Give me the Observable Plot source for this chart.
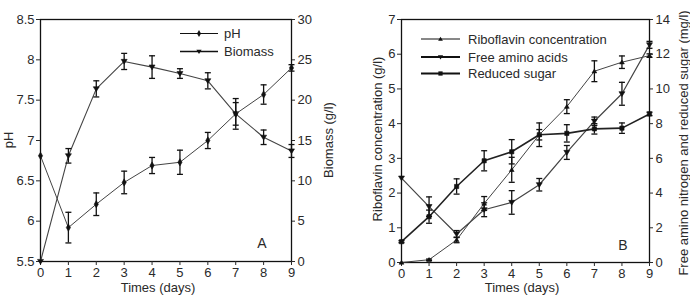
<!DOCTYPE html>
<html>
<head>
<meta charset="utf-8">
<script src="https://cdn.jsdelivr.net/npm/d3@7"></script>
<script src="https://cdn.jsdelivr.net/npm/@observablehq/plot@0.6"></script>
<style>
  html, body { margin: 0; padding: 0; background: #fff; }
  #wrap { display: flex; width: 690px; height: 295px; overflow: hidden; }
  #wrap svg { display: block; }
</style>
</head>
<body>
<div id="wrap"></div>
<script>
// Fermentation time course (days)
const days = [0, 1, 2, 3, 4, 5, 6, 7, 8, 9];

// Panel A: pH (left axis) and biomass in g/l (right axis), mean and error
const phMean = [6.81, 5.92, 6.21, 6.48, 6.69, 6.73, 7.0, 7.33, 7.57, 7.9];
const phErr = [0, 0.19, 0.14, 0.14, 0.1, 0.15, 0.1, 0.14, 0.12, 0.04];
const biomassMean = [0, 13.1, 21.4, 24.8, 24.1, 23.3, 22.4, 18.3, 15.4, 13.7];
const biomassErr = [0, 0.9, 1.0, 1.0, 1.4, 0.6, 1.0, 1.9, 0.9, 0.8];

// Panel B: riboflavin in g/l (left axis); free amino nitrogen and reduced sugar in mg/l (right axis)
const riboflavinMean = [0, 0.08, 0.65, 1.70, 2.67, 3.68, 4.49, 5.51, 5.77, 5.96];
const riboflavinErr = [0, 0.02, 0.08, 0.2, 0.36, 0.34, 0.2, 0.3, 0.18, 0.05];
const aminoMean = [4.86, 3.22, 1.64, 3.04, 3.46, 4.48, 6.34, 8.14, 9.72, 12.54];
const aminoErr = [0, 0.56, 0.2, 0.4, 0.68, 0.36, 0.4, 0.24, 0.66, 0.2];
const sugarMean = [1.2, 2.64, 4.38, 5.86, 6.38, 7.36, 7.44, 7.7, 7.74, 8.56];
const sugarErr = [0.06, 0.38, 0.44, 0.58, 0.7, 0.3, 0.5, 0.3, 0.3, 0.1];

// Axis ticks
const phTicks = [5.5, 6, 6.5, 7, 7.5, 8, 8.5];
const biomassTicks = [0, 5, 10, 15, 20, 25, 30];
const riboflavinTicks = [0, 1, 2, 3, 4, 5, 6, 7];
const nitrogenTicks = [0, 2, 4, 6, 8, 10, 12, 14];

const FONT = "'Liberation Sans', Arial, Helvetica, sans-serif";
const INK = "#111";
const TEXT = "#2a2a2a";

// Custom symbols: error-bar cap and downward triangle
const capSymbol = {
  draw(ctx, size) {
    const r = Math.sqrt(size / Math.PI);
    ctx.moveTo(-r, 0); ctx.lineTo(r, 0);
  }
};
const triangleDown = {
  draw(ctx, size) {
    const r = Math.sqrt(size / Math.PI);
    ctx.moveTo(-r, -r * 0.7); ctx.lineTo(r, -r * 0.7); ctx.lineTo(0, r * 0.9); ctx.closePath();
  }
};
const triangleUp = {
  draw(ctx, size) {
    const r = Math.sqrt(size / Math.PI);
    ctx.moveTo(-r, r * 0.7); ctx.lineTo(r, r * 0.7); ctx.lineTo(0, -r * 0.9); ctx.closePath();
  }
};

function rows(means, errs) {
  return days.map((d, i) => ({day: d, v: means[i], e: errs[i]}));
}

// One series: error bars with caps, connecting line, markers
function series(data, toY, {symbol, r = 2.6, lineWidth = 1, lineColor = "#444"}) {
  const withErr = data.filter(d => d.e > 0);
  return [
    Plot.line(data, {x: "day", y: d => toY(d.v), stroke: lineColor, strokeWidth: lineWidth}),
    Plot.ruleX(withErr, {x: "day", y1: d => toY(d.v - d.e), y2: d => toY(d.v + d.e), stroke: INK, strokeWidth: 1.3}),
    Plot.dot(withErr, {x: "day", y: d => toY(d.v + d.e), symbol: capSymbol, r: 3, stroke: INK, strokeWidth: 1.3, fill: "none"}),
    Plot.dot(withErr, {x: "day", y: d => toY(d.v - d.e), symbol: capSymbol, r: 3, stroke: INK, strokeWidth: 1.3, fill: "none"}),
    Plot.dot(data, {x: "day", y: d => toY(d.v), symbol, r, fill: INK, stroke: INK, strokeWidth: 0.6})
  ];
}

function baseOptions(margins) {
  return {
    width: 345,
    height: 295,
    ...margins,
    style: {fontFamily: FONT, fontSize: "13px", color: TEXT, background: "white", overflow: "visible"},
    x: {domain: [0, 9]}
  };
}

function addText(svg, x, y, str, {rotate = 0, anchor = "middle", size = 13} = {}) {
  d3.select(svg).append("text")
    .attr("transform", `translate(${x},${y}) rotate(${rotate})`)
    .attr("text-anchor", anchor)
    .attr("dy", "0.35em")
    .attr("font-family", FONT)
    .attr("font-size", size)
    .attr("fill", TEXT)
    .text(str);
}

function addLegend(svg, x0, x1, xText, entries) {
  const g = d3.select(svg).append("g");
  const sym = {
    up: d3.symbol(triangleUp, 18),
    down: d3.symbol(triangleDown, 22),
    square: d3.symbol(d3.symbolSquare, 18),
    diamond: d3.symbol(d3.symbolDiamond, 14)
  };
  for (const e of entries) {
    g.append("line").attr("x1", x0).attr("x2", x1).attr("y1", e.y).attr("y2", e.y)
      .attr("stroke", INK).attr("stroke-width", e.width);
    g.append("path").attr("d", sym[e.symbol]()).attr("transform", `translate(${(x0 + x1) / 2},${e.y})`)
      .attr("fill", INK);
    addText(svg, xText, e.y, e.label, {anchor: "start"});
  }
}

// ---- Panel A ----
const phToY = v => v;
const biomassToY = b => 5.5 + b / 10;

const plotA = Plot.plot({
  ...baseOptions({marginLeft: 40, marginRight: 54, marginTop: 19, marginBottom: 34}),
  y: {domain: [5.5, 8.5]},
  marks: [
    Plot.frame({stroke: INK, strokeWidth: 1.3}),
    Plot.axisX({ticks: days, tickSize: 4, tickPadding: 2, tickFormat: d => String(d), label: null}),
    Plot.axisY({ticks: phTicks, tickSize: 4, tickPadding: 2, tickFormat: d => String(d), label: null}),
    Plot.axisY({anchor: "right", ticks: biomassTicks.map(biomassToY), tickSize: 3, tickPadding: 3,
      tickFormat: y => String(Math.round((y - 5.5) * 10)), label: null}),
    ...series(rows(biomassMean, biomassErr), biomassToY, {symbol: triangleDown, r: 3, lineWidth: 1.1}),
    ...series(rows(phMean, phErr), phToY, {symbol: d3.symbolDiamond, r: 2.2, lineWidth: 1})
  ]
});

// ---- Panel B ----
const nitrogenToY = v => v / 2;

const plotB = Plot.plot({
  ...baseOptions({marginLeft: 56, marginRight: 41, marginTop: 19, marginBottom: 33}),
  y: {domain: [0, 7]},
  marks: [
    Plot.frame({stroke: INK, strokeWidth: 1.3}),
    Plot.axisX({ticks: days, tickSize: 4, tickPadding: 2, tickFormat: d => String(d), label: null}),
    Plot.axisY({ticks: riboflavinTicks, tickSize: 4, tickPadding: 2, tickFormat: d => String(d), label: null}),
    Plot.axisY({anchor: "right", ticks: nitrogenTicks.map(nitrogenToY), tickSize: 3, tickPadding: 3,
      tickFormat: y => String(Math.round(y * 2)), label: null}),
    ...series(rows(aminoMean, aminoErr), nitrogenToY, {symbol: triangleDown, r: 3, lineWidth: 1.2}),
    ...series(rows(sugarMean, sugarErr), nitrogenToY, {symbol: d3.symbolSquare, r: 2.4, lineWidth: 1.6, lineColor: "#222"}),
    ...series(rows(riboflavinMean, riboflavinErr), v => v, {symbol: triangleUp, r: 2.4, lineWidth: 1})
  ]
});

const wrap = document.getElementById("wrap");
wrap.appendChild(plotA);
wrap.appendChild(plotB);

// Axis titles, panel letters and legends
addText(plotA, 8, 140, "pH", {rotate: -90});
addText(plotA, 328, 140, "Biomass (g/l)", {rotate: -90});
addText(plotA, 158, 287, "Times (days)");
addText(plotA, 262, 243, "A", {size: 14});
addLegend(plotA, 180, 218, 224, [
  {y: 33.5, label: "pH", symbol: "diamond", width: 1.1},
  {y: 51.5, label: "Biomass", symbol: "down", width: 1.6}
]);

addText(plotB, 32, 139, "Riboflavin concentration (g/l)", {rotate: -90});
addText(plotB, 338, 143, "Free amino nitrogen and reduced sugar (mg/l)", {rotate: -90});
addText(plotB, 177, 287, "Times (days)");
addText(plotB, 278, 245, "B", {size: 14});
addLegend(plotB, 76, 115, 123, [
  {y: 39, label: "Riboflavin concentration", symbol: "up", width: 1},
  {y: 57, label: "Free amino acids", symbol: "down", width: 1.8},
  {y: 73.5, label: "Reduced sugar", symbol: "square", width: 1.8}
]);
</script>
</body>
</html>
